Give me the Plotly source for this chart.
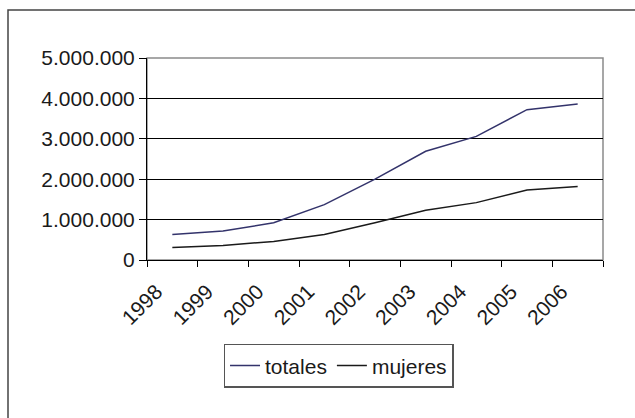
import plotly.graph_objects as go

years = ["1998", "1999", "2000", "2001", "2002", "2003", "2004", "2005", "2006"]
totales = [630000, 720000, 920000, 1370000, 2000000, 2690000, 3060000, 3720000, 3860000]
mujeres = [310000, 360000, 460000, 630000, 920000, 1230000, 1420000, 1730000, 1820000]
y_ticks = [0, 1000000, 2000000, 3000000, 4000000, 5000000]

FONT = "Liberation Sans, Arial, sans-serif"

fig = go.Figure()
fig.add_trace(go.Scatter(x=years, y=totales, mode="lines", name="totales",
                         line=dict(color="#33336b", width=1.5)))
fig.add_trace(go.Scatter(x=years, y=mujeres, mode="lines", name="mujeres",
                         line=dict(color="#1a1a1a", width=1.5)))

fig.update_layout(
    width=635, height=418,
    margin=dict(l=147, r=32, t=58, b=158, autoexpand=False),
    paper_bgcolor="white", plot_bgcolor="white",
    separators=",.",
    font=dict(family=FONT, size=21, color="#1a1a1a"),
    showlegend=True,
    legend=dict(orientation="h", x=0.42, xanchor="center", y=-0.415, yanchor="top",
                bordercolor="#555555", borderwidth=1.5, bgcolor="white",
                font=dict(size=21), itemwidth=30, traceorder="normal"),
)
fig.update_xaxes(type="category", range=[-0.5, 8.5], tickangle=-45,
                 tickson="boundaries", ticks="outside", ticklen=6, tickcolor="#000",
                 ticklabelshift=-16, ticklabelstandoff=10,
                 showline=True, linecolor="#000", linewidth=1, mirror=False,
                 showgrid=False, zeroline=False, fixedrange=True)
fig.update_yaxes(range=[0, 5000000], tickvals=y_ticks, tickformat=",d",
                 ticks="outside", ticklen=7, tickcolor="#000",
                 showline=True, linecolor="#000", linewidth=1,
                 showgrid=True, gridcolor="#000", gridwidth=1, zeroline=False)
# plot-area frame (top/right gray)
fig.add_shape(type="rect", xref="paper", yref="paper", x0=0, x1=1, y0=0, y1=1,
              line=dict(color="#8a8a8a", width=1.5), layer="below")
# outer chart border
fig.add_shape(type="rect", xref="paper", yref="paper",
              x0=-139 / 456, x1=1.2, y0=-0.9, y1=1 + 48 / 202,
              line=dict(color="#444444", width=1.5))
fig.write_html("out.html", config={"displayModeBar": False},
               post_script="document.body.style.margin='0';document.body.style.overflow='hidden';")
